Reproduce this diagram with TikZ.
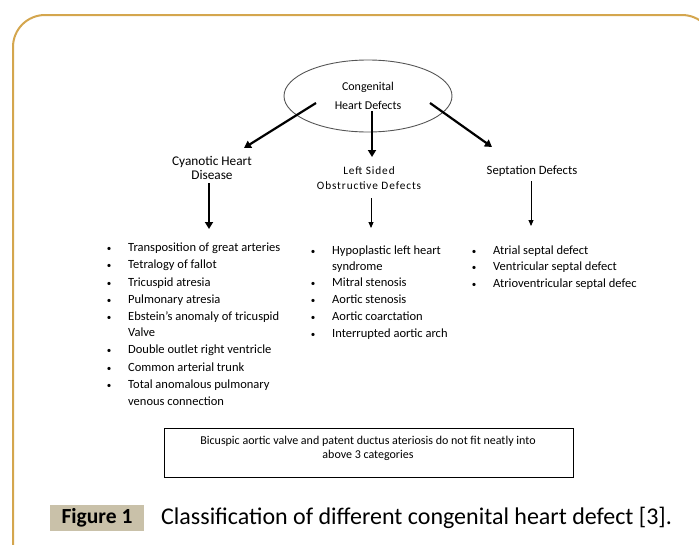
\documentclass[tikz,border=0pt]{standalone}
\usepackage{fontspec}
\setmainfont{Carlito}
\usetikzlibrary{shapes.geometric,arrows.meta}
\definecolor{framecol}{HTML}{D4A64E}
\definecolor{figbox}{HTML}{C9C1A9}
\definecolor{ellcol}{HTML}{555555}
\begin{document}
\begin{tikzpicture}[x=1pt,y=-1pt,
  itemtext/.style={anchor=mid west,inner sep=0pt,font=\fontsize{12.5}{14}\selectfont},
  bul/.style={anchor=mid,inner sep=0pt,font=\fontsize{9}{10}\selectfont},
  head/.style={align=center,inner sep=0pt,font=\fontsize{13.3}{14.5}\selectfont},
  bigarrow/.style={line width=2.2pt,-{Triangle[length=7pt,width=8pt]}},
  smallarrow/.style={line width=0.9pt,-{Triangle[length=6pt,width=5pt]}}]
\clip (0,0) rectangle (699,544);
\draw[framecol,line width=2pt,rounded corners=32pt] (13,15) rectangle (714,575);

% root
\node[ellipse,draw=ellcol,line width=0.9pt,minimum width=168pt,minimum height=72pt,
  align=center,font=\fontsize{12}{19}\selectfont] (root) at (368,96) {Congenital\\Heart Defects};

% headings
\node[head] (cyan) at (212,168) {Cyanotic Heart\\Disease};
\node[head,font=\fontsize{11.3}{14.5}\selectfont\addfontfeatures{LetterSpace=8}] (left) at (369,178) {Left Sided\\Obstructive Defects};
\node[head,font=\fontsize{12.7}{14}\selectfont] (sept) at (532,171) {Septation Defects};

% arrow endpoints
\coordinate (a1s) at (316,103); \coordinate (a1e) at (244,148);
\coordinate (a2s) at (372,111); \coordinate (a2e) at (372,157);
\coordinate (a3s) at (430,103); \coordinate (a3e) at (492,147);
\draw[bigarrow] (a1s) -- (a1e);
\draw[bigarrow] (a2s) -- (a2e);
\draw[bigarrow] (a3s) -- (a3e);

\coordinate (b1s) at (209,183); \coordinate (b1e) at (209,229);
\coordinate (b2s) at (371,198); \coordinate (b2e) at (371,228);
\coordinate (b3s) at (531,181); \coordinate (b3e) at (531,226);
\draw[bigarrow] (b1s) -- (b1e);
\draw[smallarrow] (b2s) -- (b2e);
\draw[smallarrow] (b3s) -- (b3e);

% left list
\foreach \t/\yy [count=\i] in {Transposition of great arteries/249,Tetralogy of fallot/266,
  Tricuspid atresia/284,Pulmonary atresia/301,Ebstein’s anomaly of tricuspid/318,Valve/334,
  Double outlet right ventricle/351,Common arterial trunk/369,Total anomalous pulmonary/386,
  venous connection/403}
  \node[itemtext] (L\i) at (128,\yy) {\t};
\foreach \yy [count=\i] in {249,266,284,301,318,351,369,386}
  \node[bul] (LB\i) at (109,\yy) {\textbullet};

% middle list
\foreach \t/\yy [count=\i] in {Hypoplastic left heart/252,syndrome/268,Mitral stenosis/284,
  Aortic stenosis/301,Aortic coarctation/318,Interrupted aortic arch/335}
  \node[itemtext] (M\i) at (332,\yy) {\t};
\foreach \yy [count=\i] in {252,284,301,318,335}
  \node[bul] (MB\i) at (313,\yy) {\textbullet};

% right list
\foreach \t/\yy [count=\i] in {Atrial septal defect/252,Ventricular septal defect/268,
  Atrioventricular septal defec/285}
  \node[itemtext] (R\i) at (493,\yy) {\t};
\foreach \yy [count=\i] in {252,268,285}
  \node[bul] (RB\i) at (474,\yy) {\textbullet};

% note box
\draw[line width=0.9pt] (164,428) rectangle (573,477);
\node[align=center,inner sep=0pt,font=\fontsize{12}{14}\selectfont] (note) at (368,448)
  {Bicuspic aortic valve and patent ductus ateriosis do not fit neatly into\\above 3 categories};

% caption
\node[fill=figbox,minimum width=94pt,minimum height=26pt,inner sep=0pt,
  font=\fontsize{21.5}{24}\selectfont\bfseries] (fig) at (97,518) {Figure 1};
\node[anchor=west,inner sep=0pt,font=\fontsize{24}{26}\selectfont] (cap) at (161,518)
  {Classification of different congenital heart defect [3].};
\end{tikzpicture}
\end{document}
